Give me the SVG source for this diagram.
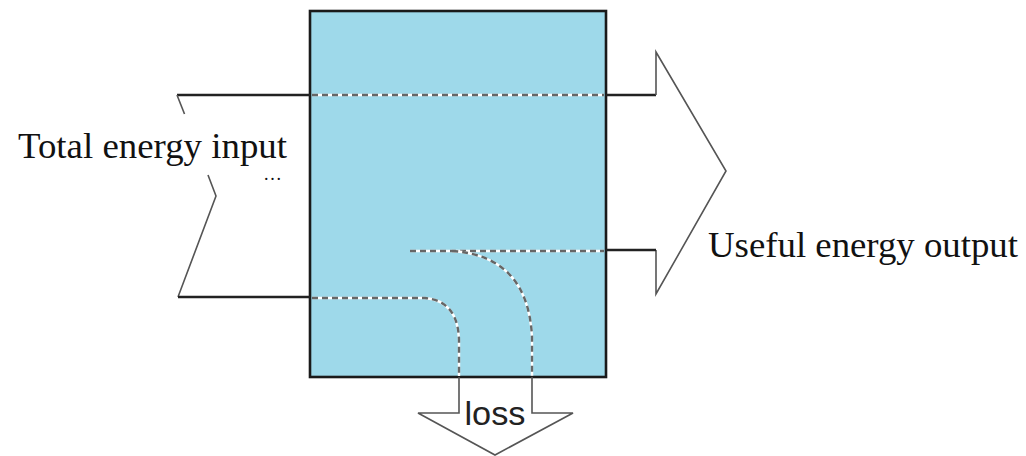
<svg xmlns="http://www.w3.org/2000/svg" width="1026" height="456" viewBox="0 0 1026 456">
  <style>
    .edge { fill: none; stroke: #222; stroke-width: 2.4; stroke-linejoin: miter; }
    .thin { fill: none; stroke: #555; stroke-width: 1.6; stroke-linejoin: miter; }
    .flowbg { fill: none; stroke: #ffffff; stroke-width: 2.4; }
    .flow { fill: none; stroke: #666666; stroke-width: 2.4; stroke-dasharray: 6 4; }
    .serif { font-family: "Liberation Serif", "Times New Roman", serif; fill: #111; }
    .sans { font-family: "Liberation Sans", Arial, sans-serif; fill: #222; }
  </style>
  <rect width="1026" height="456" fill="#ffffff"/>

  <!-- converter block -->
  <g id="converter">
    <rect x="310" y="11" width="296" height="366" fill="#9ed9ea" stroke="#1a1a1a" stroke-width="2.6"/>
  </g>

  <!-- energy flow connectors -->
  <g id="connectors">
    <!-- input arrow tail -->
    <path class="edge" d="M310,95 L177,95"/>
    <path class="thin" d="M177,95 L184.5,114"/>
    <path class="thin" d="M208,175 L216,196 L178,297"/>
    <path class="edge" d="M178,297 L310,297"/>

    <!-- output arrow -->
    <path class="edge" d="M606,95 L656,95"/>
    <path class="thin" d="M656,95 L656,52 L726,171 L656,294 L656,250"/>
    <path class="edge" d="M656,250 L606,250"/>

    <!-- loss arrow -->
    <path class="thin" d="M459,377 L459,413 L418,413 L495,455 L573,413 L532,413 L532,377"/>

    <!-- dashed flow paths inside the block -->
    <path class="flowbg" d="M312,95 L604,95"/>
    <path class="flow" d="M312,95 L604,95"/>
    <path class="flowbg" d="M410,251 L604,251"/>
    <path class="flow" d="M410,251 L604,251"/>
    <path class="flowbg" d="M452,251 Q528,256 532,337 L532,376"/>
    <path class="flow" d="M452,251 Q528,256 532,337 L532,376"/>
    <path class="flowbg" d="M312,298 L425,298 Q458,301 459,340 L459,376"/>
    <path class="flow" d="M312,298 L425,298 Q458,301 459,340 L459,376"/>
  </g>

  <!-- labels -->
  <g id="input-label">
    <text class="serif" x="18" y="158" font-size="35" textLength="269" lengthAdjust="spacingAndGlyphs">Total energy input</text>
    <text class="serif" x="264" y="180" font-size="18" textLength="17" lengthAdjust="spacing">...</text>
  </g>
  <g id="output-label">
    <text class="serif" x="708" y="257" font-size="35" textLength="310" lengthAdjust="spacingAndGlyphs">Useful energy output</text>
  </g>
  <g id="loss-label">
    <text class="sans" x="495" y="425" font-size="33" text-anchor="middle" textLength="61" lengthAdjust="spacingAndGlyphs">loss</text>
  </g>
</svg>
